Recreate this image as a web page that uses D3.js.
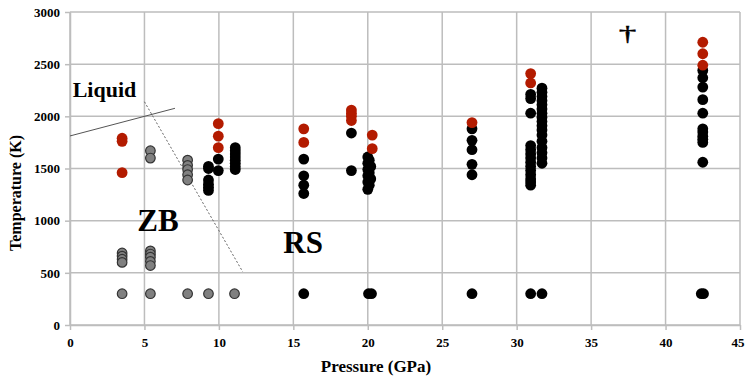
<!DOCTYPE html>
<html><head><meta charset="utf-8">
<script src="https://cdn.jsdelivr.net/npm/d3@7"></script>
<style>body{margin:0;background:#fff}svg{display:block}</style>
</head><body><svg id="c" width="745" height="383"></svg>
<script>
const xTicks=[0,5,10,15,20,25,30,35,40,45];
const yTicks=[0,500,1000,1500,2000,2500,3000];

// Zinc-blende (grey)
const zbP=[3.5,3.5,3.5,3.5,3.5, 5.4,5.4,5.4,5.4,5.4,5.4,5.4,5.4, 7.9,7.9,7.9,7.9,7.9,7.9, 9.3,11.05];
const zbT=[690,660,630,600,300, 1670,1600,710,680,650,610,570,300, 1580,1530,1490,1440,1390,300, 300,300];

// Rock-salt (black)
const rsP=[9.3,9.3,9.3,9.3,9.3,9.3, 9.96,9.96,
  11.1,11.1,11.1,11.1,11.1,11.1,11.1,11.1,
  15.7,15.7,15.7,15.7,15.7,
  18.9,18.9,
  20.0,20.1,20.0,20.2,20.0,20.1,20.0,20.2,20.0,20.1,20.0,20.05,20.25,
  27.0,27.0,27.0,27.0,27.0,27.0,
  30.94,30.94,30.94,30.94,30.94,30.94,30.94,30.94,30.94,30.94,30.94,30.94,30.94,30.94,30.94,
  31.7,31.7,31.7,31.7,31.7,31.7,31.7,31.7,31.7,31.7,31.7,31.7,31.7,31.7,31.7,31.7,31.7,31.7,
  42.5,42.5,42.5,42.5,42.5,42.5,42.5,42.5,42.5,42.5,42.5,42.4,42.55];
const rsT=[1520,1500,1390,1350,1320,1290, 1590,1480,
  1700,1670,1640,1610,1580,1550,1520,1490,
  1590,1430,1340,1260,300,
  1840,1480,
  1610,1580,1550,1520,1490,1460,1430,1400,1370,1340,1300,300,300,
  1880,1770,1680,1540,1440,300,
  2210,2170,2030,1720,1680,1640,1600,1560,1520,1480,1440,1400,1370,1340,300,
  2270,2230,2190,2150,2110,2070,2030,1990,1950,1910,1870,1820,1760,1700,1650,1600,1550,300,
  2440,2370,2280,2160,2030,1880,1850,1810,1780,1750,1560,300,300];

// Liquid (red)
const liqP=[3.5,3.5,3.5, 9.96,9.96,9.96, 15.7,15.7, 18.9,18.9,18.9,18.9, 20.3,20.3, 27.0, 30.94,30.94, 42.5,42.5,42.5];
const liqT=[1790,1760,1460, 1930,1810,1700, 1880,1750, 2060,2030,2000,1960, 1820,1690, 1940, 2410,2320, 2710,2600,2490];

// Phase-boundary guide lines
const meltP=[0,7.05], meltT=[1812,2077];
const transP=[5.0,11.6], transT=[2140,510];

const svg=d3.select("#c");
svg.append("rect").attr("width",745).attr("height",383).attr("fill","#fff");
const x=d3.scaleLinear().domain([0,45]).range([70,740]);
const y=d3.scaleLinear().domain([0,3000]).range([325,12]);
const font="'Liberation Serif','Times New Roman',serif";
const gridC="#bdbdbd";

// grid
svg.append("g").selectAll("line").data(xTicks).join("line")
  .attr("x1",d=>x(d)).attr("x2",d=>x(d)).attr("y1",y(0)).attr("y2",y(3000))
  .attr("stroke",gridC).attr("stroke-width",1.5);
svg.append("g").selectAll("line").data(yTicks).join("line")
  .attr("x1",x(0)).attr("x2",x(45)).attr("y1",d=>y(d)).attr("y2",d=>y(d))
  .attr("stroke",gridC).attr("stroke-width",1.5);

// axes
const fmt=d3.format("d");
const xa=svg.append("g").attr("transform",`translate(0,${y(0)})`)
  .call(d3.axisBottom(x).tickValues(xTicks).tickFormat(fmt).tickSizeInner(5).tickSizeOuter(0).tickPadding(8));
const ya=svg.append("g").attr("transform",`translate(${x(0)},0)`)
  .call(d3.axisLeft(y).tickValues(yTicks).tickFormat(fmt).tickSizeInner(5).tickSizeOuter(0).tickPadding(5));
[xa,ya].forEach(a=>{
  a.selectAll("path,line").attr("stroke",gridC).attr("stroke-width",1.5);
  a.selectAll("text").attr("font-family",font).attr("font-weight","bold").attr("font-size",13).attr("fill","#000");
});
xa.selectAll(".tick").filter(d=>d===45).select("text").attr("text-anchor","end").attr("dx",4);

// titles
svg.append("text").attr("x",376).attr("y",372).attr("text-anchor","middle")
  .attr("font-family",font).attr("font-weight","bold").attr("font-size",17).text("Pressure (GPa)");
svg.append("text").attr("transform","translate(21,193) rotate(-90)").attr("text-anchor","middle")
  .attr("font-family",font).attr("font-weight","bold").attr("font-size",16).text("Temperature (K)");

// guide lines
const line=d3.line().x(d=>x(d[0])).y(d=>y(d[1]));
svg.append("path").attr("d",line(meltP.map((p,i)=>[p,meltT[i]])))
  .attr("stroke","#555").attr("stroke-width",1).attr("fill","none");
svg.append("path").attr("d",line(transP.map((p,i)=>[p,transT[i]])))
  .attr("stroke","#666").attr("stroke-width",1).attr("stroke-dasharray","2,2").attr("fill","none");

// labels
const lab=(t,p,tt,s)=>svg.append("text").attr("x",x(p)).attr("y",y(tt))
  .attr("font-family",font).attr("font-weight","bold").attr("font-size",s).attr("fill","#000").text(t);
lab("Liquid",0.18,2183,22);
lab("ZB",4.52,904,31);
lab("RS",14.33,687,31);
svg.append("text").attr("transform",`translate(${x(37.45)},${y(2735)}) scale(1.6,1)`).attr("text-anchor","middle")
  .attr("font-family",font).attr("font-size",22).attr("stroke","#000").attr("stroke-width",0.4)
  .attr("fill","#000").text("\u2020");

// points
function pts(P,T,fill,stroke,r){
  svg.append("g").selectAll("circle").data(P.map((p,i)=>[p,T[i]])).join("circle")
    .attr("cx",d=>x(d[0])).attr("cy",d=>y(d[1])).attr("r",r)
    .attr("fill",fill).attr("stroke",stroke).attr("stroke-width",stroke==="none"?0:1.2);
}
pts(zbP,zbT,"#808080","#333",4.8);
pts(rsP,rsT,"#000","none",5.4);
pts(liqP,liqT,"#b31b00","none",5.4);
</script></body></html>
